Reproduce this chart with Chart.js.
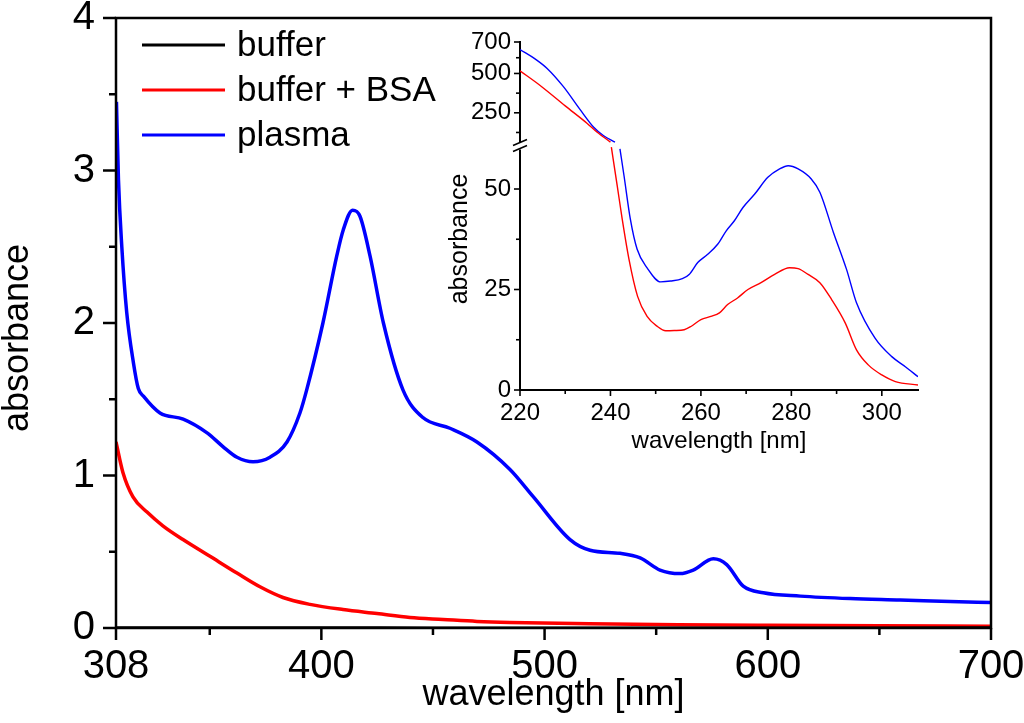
<!DOCTYPE html>
<html><head><meta charset="utf-8">
<script src="https://cdn.jsdelivr.net/npm/chart.js@4.4.0/dist/chart.umd.min.js"></script>
<style>
html,body{margin:0;padding:0;background:#fff;}
#wrap{position:relative;width:1024px;height:723px;overflow:hidden;background:#fff;}
#main{position:absolute;left:0;top:0;}
#inset{position:absolute;left:430px;top:20px;}
</style></head><body>
<div id="wrap"><canvas id="main" width="1024" height="723"></canvas><canvas id="inset" width="500" height="445"></canvas></div>
<script>
const FONT = '"Liberation Sans", Arial, Helvetica, sans-serif';

// ---------- main chart data ----------
const seriesNames = ['buffer', 'buffer + BSA', 'plasma'];
const seriesColors = ['#000000', '#ff0000', '#0000ff'];

const bufferNm  = [308, 350, 400, 450, 500, 550, 600, 650, 700];
const bufferAbs = [0.004, 0.003, 0.003, 0.002, 0.002, 0.002, 0.002, 0.002, 0.003];

const bsaNm  = [308, 311.1, 315.6, 321.9, 329.0, 338.0, 350.1, 362.2, 372.5, 382.8, 394.9, 409.7, 424.9, 439.7, 454.5, 469.7, 484.5, 520, 560, 600, 650, 700];
const bsaAbs = [1.22, 1.02, 0.86, 0.76, 0.67, 0.58, 0.47, 0.36, 0.27, 0.20, 0.155, 0.121, 0.095, 0.069, 0.056, 0.043, 0.036, 0.028, 0.022, 0.018, 0.014, 0.012];

const plasmaNm  = [308.2, 309.1, 310.6, 312.8, 315.8, 318.0, 320.3, 327.7, 338.1, 348.8, 355.9, 362.2, 369.4, 377.0, 384.6, 390.4, 393.4, 400.7, 406.9, 409.8, 414.0, 417.3, 421.8, 427.8, 436.6, 445.5, 457.6, 469.7, 484.5, 495.0, 511.4, 520.4, 533.8, 542.8, 551.7, 560.7, 566.6, 575.6, 581.6, 589.0, 598.0, 614.6, 636.9, 659.3, 681.7, 700];
const plasmaAbs = [3.45, 2.94, 2.50, 2.07, 1.74, 1.57, 1.52, 1.41, 1.37, 1.28, 1.19, 1.12, 1.09, 1.12, 1.22, 1.41, 1.56, 2.00, 2.44, 2.61, 2.74, 2.70, 2.44, 2.00, 1.56, 1.38, 1.31, 1.22, 1.04, 0.86, 0.58, 0.51, 0.49, 0.46, 0.38, 0.357, 0.38, 0.454, 0.416, 0.274, 0.231, 0.209, 0.193, 0.184, 0.174, 0.167];

const mainXTicks = [308, 400, 500, 600, 700];
const mainXMinor = [350, 450, 550, 650];
const mainYTicks = [0, 1, 2, 3, 4];
const mainYMinor = [0.5, 1.5, 2.5, 3.5];

// ---------- inset data (broken y axis) ----------
const insetBsaHighNm  = [220, 224.8, 230, 234.8, 237, 240];
const insetBsaHighAbs = [517, 416, 294, 184, 128, 64];
const insetPlasmaHighNm  = [220, 223.7, 226, 229.6, 233.3, 236.3, 238.5, 241];
const insetPlasmaHighAbs = [652, 585, 532, 416, 270, 158, 104, 64];

const insetBsaLowNm  = [240.2, 241.5, 242.6, 244.1, 246, 248.1, 250.4, 252.2, 254.1, 256.3, 257.8, 260, 262.2, 264.1, 265.9, 268.1, 270.4, 273.3, 276.3, 279.6, 281.5, 283.7, 286.3, 288.9, 291.9, 294.4, 297, 300, 303, 308];
const insetBsaLowAbs = [60.4, 50.8, 42.5, 32.5, 23.3, 18.3, 15.8, 14.75, 14.8, 15, 15.8, 17.5, 18.3, 19.2, 21.25, 22.9, 25, 26.7, 28.75, 30.4, 30.2, 28.75, 26.7, 22.5, 16.7, 10, 6.25, 3.75, 2.1, 1.25];
const insetPlasmaLowNm  = [242.1, 243, 244.4, 245.9, 248.1, 251.1, 253.3, 255.9, 257.4, 259.3, 261.5, 263.7, 265.6, 267.4, 269.3, 271.9, 274.8, 277.4, 279.3, 281.5, 284.4, 286.3, 289.3, 292.2, 294.4, 298.5, 302.2, 305.2, 308];
const insetPlasmaLowAbs = [60, 53.3, 42.5, 35, 30.4, 26.9, 27.1, 27.7, 28.75, 31.7, 33.75, 36.25, 39.6, 42.1, 45.4, 48.75, 52.9, 55, 55.8, 55, 52.5, 49.2, 39.2, 30, 21.7, 12.9, 8.3, 5.8, 3.3];

const insetXTicks = [220, 240, 260, 280, 300];
const insetXMinor = [230, 250, 270, 290];
const insetHighTicks = [250, 500, 700];
const insetHighMinor = [125, 375, 600];
const insetLowTicks = [0, 25, 50];
const insetLowMinor = [12.5, 37.5];

const xTitle = 'wavelength [nm]';
const yTitle = 'absorbance';

// ---------- helpers ----------
const pts = (xs, ys) => xs.map((x, i) => ({x: x, y: ys[i]}));
const setTicks = vals => (axis) => { axis.ticks = vals.map(v => ({value: v})); };
const fitY = w => s => { s.width = w; s.paddingTop = 0; s.paddingBottom = 0; };
const fitX = h => s => { s.height = h; s.paddingLeft = 0; s.paddingRight = 0; };

function tickPlugin(id, sets) {
  return {
    id: id,
    afterDraw(chart) {
      const ctx = chart.ctx;
      ctx.save();
      ctx.strokeStyle = '#000';
      sets.forEach(s => {
        const sc = chart.scales[s.axis];
        ctx.lineWidth = s.width;
        const draw = (v, len) => {
          const p = sc.getPixelForValue(v);
          ctx.beginPath();
          if (sc.isHorizontal()) { ctx.moveTo(p, sc.top); ctx.lineTo(p, sc.top + len); }
          else { ctx.moveTo(sc.right, p); ctx.lineTo(sc.right - len, p); }
          ctx.stroke();
        };
        s.major.forEach(v => draw(v, s.majLen));
        s.minor.forEach(v => draw(v, s.minLen));
      });
      ctx.restore();
    }
  };
}

function yTitlePlugin(id, text, x, y, size) {
  return {
    id: id,
    afterDraw(chart) {
      const ctx = chart.ctx;
      ctx.save();
      ctx.translate(x, y);
      ctx.rotate(-Math.PI / 2);
      ctx.font = size + 'px ' + FONT;
      ctx.fillStyle = '#000';
      ctx.textAlign = 'center';
      ctx.textBaseline = 'middle';
      ctx.fillText(text, 0, 0);
      ctx.restore();
    }
  };
}

const framePlugin = {
  id: 'frame',
  afterDatasetsDraw(chart) {
    const a = chart.chartArea, ctx = chart.ctx;
    ctx.save();
    ctx.strokeStyle = '#000';
    ctx.lineWidth = 2.5;
    ctx.strokeRect(a.left, a.top, a.right - a.left, a.bottom - a.top);
    ctx.restore();
  }
};

const legendPlugin = {
  id: 'insideLegend',
  afterDraw(chart) {
    const ctx = chart.ctx;
    ctx.save();
    ctx.font = '35px ' + FONT;
    ctx.textBaseline = 'middle';
    ctx.textAlign = 'left';
    chart.data.datasets.forEach((ds, i) => {
      const y = 45 + i * 45;
      ctx.strokeStyle = ds.borderColor;
      ctx.lineWidth = 3;
      ctx.beginPath(); ctx.moveTo(142, y); ctx.lineTo(225, y); ctx.stroke();
      ctx.fillStyle = '#000';
      ctx.fillText(ds.label, 237, y + 1);
    });
    ctx.restore();
  }
};

// ---------- main chart ----------
new Chart(document.getElementById('main'), {
  type: 'line',
  data: {
    datasets: [
      {label: seriesNames[0], data: pts(bufferNm, bufferAbs), borderColor: seriesColors[0], borderWidth: 2.5},
      {label: seriesNames[1], data: pts(bsaNm, bsaAbs), borderColor: seriesColors[1], borderWidth: 3.5},
      {label: seriesNames[2], data: pts(plasmaNm, plasmaAbs), borderColor: seriesColors[2], borderWidth: 3.5}
    ]
  },
  options: {
    responsive: false,
    animation: false,
    devicePixelRatio: 1,
    layout: {padding: {top: 18, right: 33, left: 0, bottom: 0}},
    elements: {point: {radius: 0}, line: {cubicInterpolationMode: 'monotone', fill: false}},
    plugins: {legend: {display: false}, tooltip: {enabled: false}},
    scales: {
      x: {
        type: 'linear', min: 308, max: 700,
        afterBuildTicks: setTicks(mainXTicks),
        afterFit: fitX(95),
        grid: {display: false, drawTicks: false},
        border: {display: false},
        ticks: {autoSkip: false, maxRotation: 0, padding: 19, color: '#000', font: {family: FONT, size: 40, lineHeight: 1}},
        title: {display: true, text: xTitle, color: '#000', font: {family: FONT, size: 36, lineHeight: 1}, padding: {top: 0, bottom: 10}}
      },
      y: {
        type: 'linear', min: 0, max: 4,
        afterBuildTicks: setTicks(mainYTicks),
        afterFit: fitY(116),
        grid: {display: false, drawTicks: false},
        border: {display: false},
        ticks: {autoSkip: false, padding: 21, color: '#000', font: {family: FONT, size: 40, lineHeight: 1}}
      }
    }
  },
  plugins: [framePlugin, legendPlugin,
    tickPlugin('mainTicks', [
      {axis: 'x', major: mainXTicks, minor: mainXMinor, majLen: 12, minLen: 7, width: 2.5},
      {axis: 'y', major: mainYTicks, minor: mainYMinor, majLen: 13, minLen: 7, width: 2.5}
    ]),
    yTitlePlugin('mainYTitle', yTitle, 18, 338, 36)]
});

// ---------- inset chart ----------
const breakPlugin = {
  id: 'axisBreak',
  afterDraw(chart) {
    const ctx = chart.ctx;
    const x = chart.chartArea.left;
    const yb = chart.scales.yLow.top;
    ctx.save();
    ctx.fillStyle = '#fff';
    ctx.fillRect(x - 4, yb - 3.5, 8, 7);
    ctx.strokeStyle = '#000';
    ctx.lineWidth = 1.6;
    ctx.beginPath();
    ctx.moveTo(x - 7, yb - 0.5); ctx.lineTo(x + 7, yb - 6.5);
    ctx.moveTo(x - 7, yb + 5.5); ctx.lineTo(x + 7, yb - 0.5);
    ctx.stroke();
    ctx.restore();
  }
};

const tickFontInset = {family: FONT, size: 24, lineHeight: 1};
new Chart(document.getElementById('inset'), {
  type: 'line',
  data: {
    datasets: [
      {label: seriesNames[1], data: pts(insetBsaHighNm, insetBsaHighAbs), borderColor: seriesColors[1], borderWidth: 1.4, yAxisID: 'yHigh'},
      {label: seriesNames[1], data: pts(insetBsaLowNm, insetBsaLowAbs), borderColor: seriesColors[1], borderWidth: 1.4, yAxisID: 'yLow'},
      {label: seriesNames[2], data: pts(insetPlasmaHighNm, insetPlasmaHighAbs), borderColor: seriesColors[2], borderWidth: 1.4, yAxisID: 'yHigh'},
      {label: seriesNames[2], data: pts(insetPlasmaLowNm, insetPlasmaLowAbs), borderColor: seriesColors[2], borderWidth: 1.4, yAxisID: 'yLow'}
    ]
  },
  options: {
    responsive: false,
    animation: false,
    devicePixelRatio: 1,
    layout: {padding: {top: 22, right: 12, left: 0, bottom: 0}},
    elements: {point: {radius: 0}, line: {cubicInterpolationMode: 'monotone', fill: false}},
    plugins: {legend: {display: false}, tooltip: {enabled: false}},
    scales: {
      x: {
        type: 'linear', min: 220, max: 308,
        afterBuildTicks: setTicks(insetXTicks),
        afterFit: fitX(75),
        grid: {display: false, drawTicks: false},
        border: {display: true, color: '#000', width: 2},
        ticks: {autoSkip: false, maxRotation: 0, padding: 11, color: '#000', font: tickFontInset},
        title: {display: true, text: xTitle, color: '#000', font: {family: FONT, size: 24, lineHeight: 1}, padding: {top: 0, bottom: 12}}
      },
      yLow: {
        type: 'linear', position: 'left', stack: 'inset', stackWeight: 244, offset: false,
        min: 0, max: 60.7,
        afterBuildTicks: setTicks(insetLowTicks),
        afterFit: fitY(90),
        grid: {display: false, drawTicks: false},
        border: {display: true, color: '#000', width: 2},
        ticks: {autoSkip: false, padding: 9, color: '#000', font: tickFontInset}
      },
      yHigh: {
        type: 'linear', position: 'left', stack: 'inset', stackWeight: 104, offset: false,
        min: 39, max: 700,
        afterBuildTicks: setTicks(insetHighTicks),
        afterFit: fitY(90),
        grid: {display: false, drawTicks: false},
        border: {display: true, color: '#000', width: 2},
        ticks: {autoSkip: false, padding: 9, color: '#000', font: tickFontInset}
      }
    }
  },
  plugins: [breakPlugin,
    tickPlugin('insetTicks', [
      {axis: 'x', major: insetXTicks, minor: insetXMinor, majLen: 6, minLen: 4, width: 1.6},
      {axis: 'yHigh', major: insetHighTicks, minor: insetHighMinor, majLen: 6, minLen: 4, width: 1.6},
      {axis: 'yLow', major: insetLowTicks, minor: insetLowMinor, majLen: 6, minLen: 4, width: 1.6}
    ]),
    yTitlePlugin('insetYTitle', yTitle, 30, 219, 25)]
});
</script>
</body></html>
